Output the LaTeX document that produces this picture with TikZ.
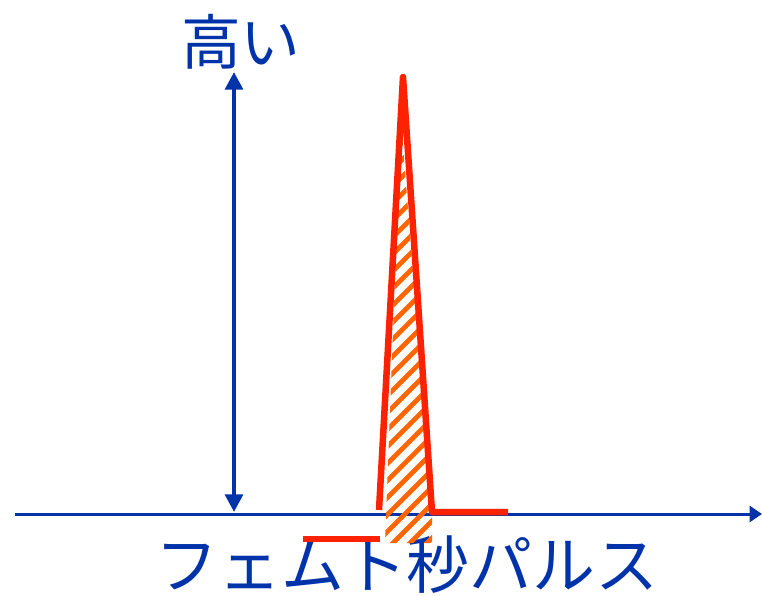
\documentclass[tikz,border=0pt]{standalone}
\usepackage{fontspec}
\newfontfamily\jpfont{Noto Sans CJK JP}
\usetikzlibrary{arrows.meta}
\definecolor{azul}{RGB}{0,51,170}
\definecolor{rojo}{RGB}{255,34,0}
\definecolor{naranja}{RGB}{255,102,0}
\tikzset{
	eje/.style={azul, line width=1.7pt, -{Triangle[length=7pt,width=9pt]}},
	altura/.style={azul, line width=2.3pt, {Triangle[length=10pt,width=10pt]}-{Triangle[length=10pt,width=10pt]}},
	pulso/.style={rojo, line width=3.7pt, line join=round},
	rayas/.style={naranja, line width=2.8pt},
	texto/.style={azul, font=\jpfont\fontsize{34}{34}\selectfont, inner sep=0pt}
}
\begin{document}
\begin{tikzpicture}[x=0.02cm, y=-0.02cm]
		\useasboundingbox (0,0) rectangle (762,596);
		% ejes
		\coordinate (ejeIni) at (15,514);
		\coordinate (ejeFin) at (762,514);
		\coordinate (altoArr) at (234,72);
		\coordinate (altoAbj) at (234,512);
		\draw[eje] (ejeIni) -- (ejeFin);
		\draw[altura] (altoAbj) -- (altoArr);
		\node[texto] (alto) at (241,42) {高い};
		\node[texto, font=\jpfont\fontsize{35.8}{35.8}\selectfont] (titulo) at (407,565) {フェムト秒パルス};
		% relleno rayado del pulso
		\begin{scope}
			\clip (385,543) -- (401,120) -- (432,513) -- (432,543) -- cycle;
			\foreach \i in {-110,-93,...,450}
				\draw[rayas] (\i,570) -- ++(620,-620);
		\end{scope}
		% el pulso
		\coordinate (pico) at (403,77);
		\draw[pulso] (379,510) -- (pico) -- (432,512) -- (508,512);
		\draw[pulso] (303,539) -- (380,539);
	\end{tikzpicture}
\end{document}
